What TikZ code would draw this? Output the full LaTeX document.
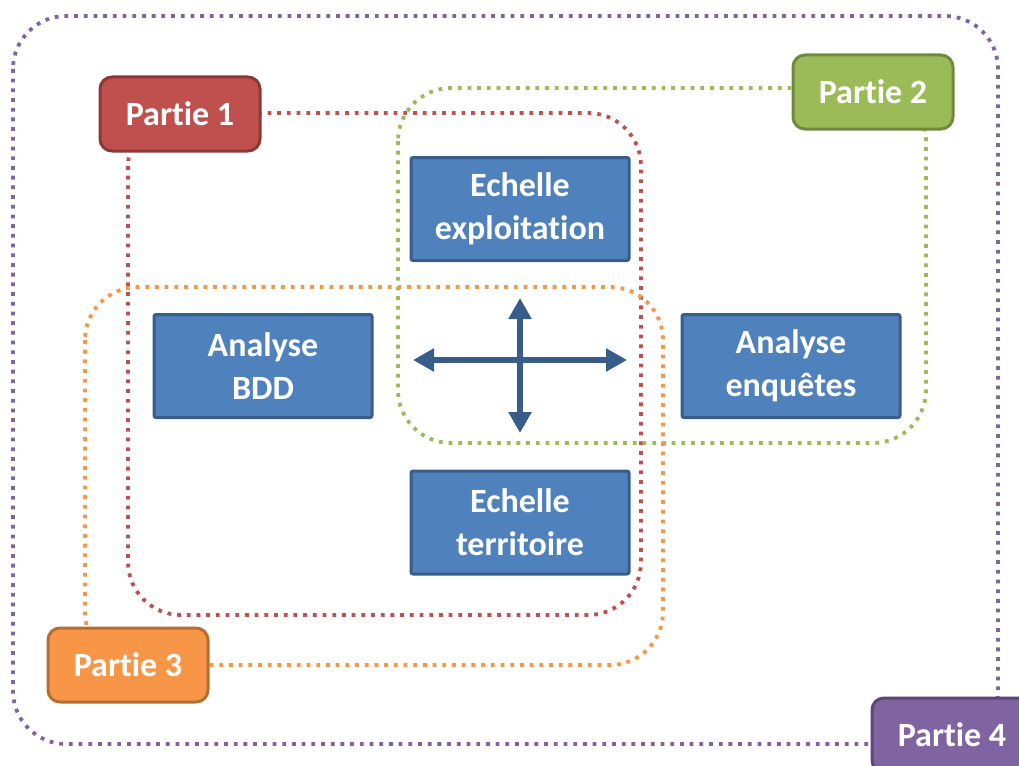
\documentclass[tikz,border=0pt]{standalone}
\usepackage{fontspec}
\setmainfont{Carlito}[Ligatures={NoCommon,NoContextual,NoRequired}]
\usetikzlibrary{arrows.meta}
\definecolor{redF}{HTML}{C0504D}
\definecolor{redD}{HTML}{8C3836}
\definecolor{grnF}{HTML}{9BBB59}
\definecolor{grnD}{HTML}{71893F}
\definecolor{orgF}{HTML}{F79646}
\definecolor{orgD}{HTML}{B66D31}
\definecolor{purF}{HTML}{8064A2}
\definecolor{purD}{HTML}{5C4776}
\definecolor{bluF}{HTML}{4F81BD}
\definecolor{bluD}{HTML}{385D8A}
\begin{document}
\begin{tikzpicture}[x=1pt,y=-1pt,
  zone/.style={line width=3.8pt, dash pattern=on 3.8pt off 5.9pt, rounded corners=53pt},
  partie/.style={draw, line width=3pt, rounded corners=12pt, minimum width=160pt, minimum height=74pt, text=white, font=\fontsize{34}{43}\selectfont\bfseries, inner sep=0pt},
  bbox/.style={draw=bluD, fill=bluF, line width=3pt, rounded corners=2pt, minimum width=218pt, minimum height=103pt, text=white, align=center, font=\fontsize{34}{43}\selectfont\bfseries, inner sep=0pt},
  dblarrow/.style={draw=bluD, line width=6pt, {Triangle[width=22pt,length=21pt]}-{Triangle[width=22pt,length=21pt]}}
]
\useasboundingbox (0,0) rectangle (1019,765);
% dotted zones
\draw[zone, purF] (13,16) rectangle (998,744);
\draw[zone, redF] (128,113) rectangle (641,615);
\draw[zone, grnF] (398,88) rectangle (926,443);
\draw[zone, orgF] (85,287) rectangle (663,665);
% partie labels
\node[partie, draw=redD, fill=redF] (p1) at (180,114) {Partie 1};
\node[partie, draw=grnD, fill=grnF] (p2) at (873,92) {Partie 2};
\node[partie, draw=orgD, fill=orgF] (p3) at (128,665) {Partie 3};
\node[partie, draw=purD, fill=purF] (p4) at (952,735) {Partie 4};
% blue boxes
\node[bbox] (ee) at (520,209) {Echelle\\exploitation};
\node[bbox] (et) at (520,522.5) {Echelle\\territoire};
\node[bbox] (ab) at (263,366) {Analyse\\BDD};
\node[bbox] (ae) at (791,366) {Analyse\\enquêtes};
% arrows
\coordinate (hl) at (413,360);
\coordinate (hr) at (627,360);
\coordinate (vt) at (520,298);
\coordinate (vb) at (520,433);
\draw[dblarrow] (hl) -- (hr);
\draw[dblarrow] (vt) -- (vb);
\end{tikzpicture}
\end{document}
